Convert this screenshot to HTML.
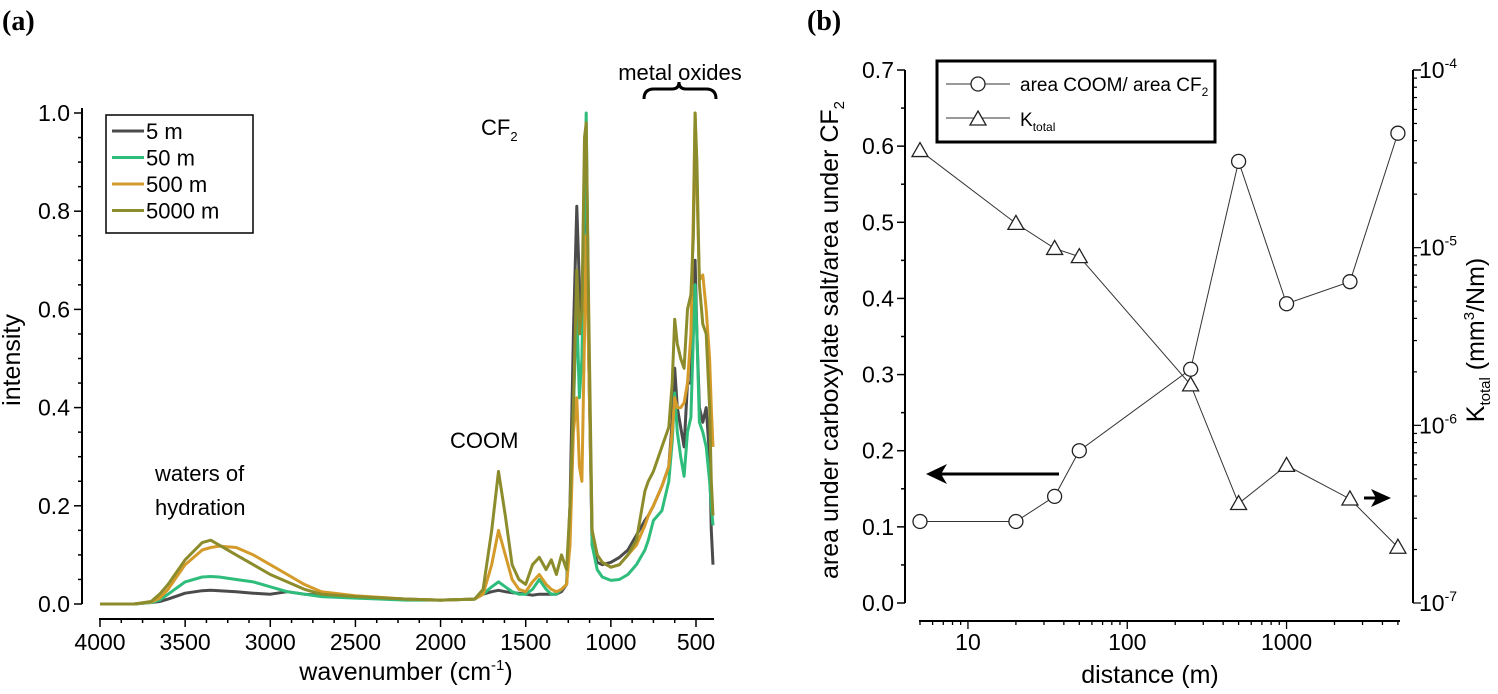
<!DOCTYPE html>
<html><head><meta charset="utf-8">
<style>
html,body{margin:0;padding:0;background:#fff;}
svg{display:block;font-family:"Liberation Sans",sans-serif;}
</style></head>
<body>
<svg id="fig" width="1498" height="694" viewBox="0 0 1498 694">
<text x="2" y="30" font-family="Liberation Serif" font-weight="bold" font-size="28">(a)</text>
<text x="807" y="30" font-family="Liberation Serif" font-weight="bold" font-size="28">(b)</text>
<g id="pa"></g>
<g id="pb"></g>
</svg>
<script>
const NS="http://www.w3.org/2000/svg";
function mk(parent,tag,attrs,text){const e=document.createElementNS(NS,tag);for(const k in attrs)e.setAttribute(k,attrs[k]);if(text!==undefined)e.textContent=text;parent.appendChild(e);return e;}

// ---------- Panel A data ----------
const wavenumbers=[4000,3800,3700,3650,3600,3500,3400,3350,3300,3200,3100,3000,2900,2800,2700,2500,2200,2000,1800,1750,1700,1660,1620,1580,1540,1500,1460,1420,1380,1350,1320,1290,1260,1240,1220,1200,1185,1170,1155,1145,1130,1110,1080,1050,1000,950,900,850,800,780,750,700,660,640,625,610,590,570,550,530,515,505,495,480,460,440,420,410,400];
const series5m=[0,0,0.003,0.005,0.01,0.022,0.027,0.028,0.027,0.025,0.022,0.02,0.025,0.02,0.018,0.015,0.01,0.008,0.01,0.02,0.025,0.028,0.025,0.023,0.022,0.02,0.018,0.02,0.02,0.02,0.02,0.025,0.04,0.2,0.55,0.81,0.65,0.55,0.8,0.92,0.5,0.12,0.085,0.08,0.085,0.095,0.11,0.14,0.17,0.18,0.2,0.24,0.28,0.37,0.48,0.4,0.36,0.32,0.45,0.45,0.6,0.7,0.55,0.4,0.37,0.4,0.3,0.15,0.08];
const series50m=[0,0,0.003,0.008,0.02,0.045,0.055,0.056,0.055,0.05,0.045,0.035,0.025,0.02,0.015,0.012,0.008,0.008,0.01,0.02,0.035,0.045,0.035,0.025,0.02,0.02,0.03,0.05,0.03,0.02,0.02,0.03,0.04,0.15,0.4,0.6,0.42,0.5,0.8,1.0,0.55,0.12,0.07,0.055,0.048,0.05,0.06,0.08,0.11,0.13,0.17,0.19,0.25,0.33,0.43,0.35,0.3,0.26,0.35,0.38,0.55,0.65,0.55,0.37,0.35,0.32,0.25,0.2,0.16];
const series500m=[0,0,0.004,0.012,0.03,0.08,0.11,0.115,0.118,0.115,0.1,0.08,0.06,0.04,0.025,0.017,0.01,0.008,0.01,0.02,0.08,0.15,0.1,0.05,0.03,0.025,0.045,0.06,0.04,0.03,0.025,0.03,0.04,0.12,0.35,0.42,0.28,0.25,0.55,0.75,0.5,0.15,0.1,0.085,0.075,0.08,0.1,0.12,0.16,0.18,0.2,0.24,0.28,0.35,0.42,0.4,0.4,0.41,0.45,0.55,0.8,1.0,0.85,0.66,0.67,0.6,0.5,0.4,0.32];
const series5000m=[0,0,0.005,0.02,0.04,0.09,0.125,0.13,0.12,0.1,0.08,0.06,0.045,0.03,0.02,0.015,0.01,0.008,0.01,0.03,0.15,0.27,0.18,0.08,0.05,0.04,0.08,0.095,0.07,0.09,0.06,0.1,0.07,0.2,0.4,0.68,0.55,0.6,0.95,0.98,0.6,0.15,0.1,0.085,0.075,0.08,0.1,0.13,0.23,0.25,0.27,0.32,0.36,0.45,0.58,0.53,0.5,0.48,0.6,0.63,0.75,1.0,0.9,0.65,0.57,0.55,0.4,0.25,0.18];
const seriesNames=["5 m","50 m","500 m","5000 m"];
const seriesColors=["#4b4b4b","#2fbd7c","#d49b2a","#8c8c2c"];
const xTicksA=[4000,3500,3000,2500,2000,1500,1000,500];
const yTicksA=[0,0.2,0.4,0.6,0.8,1.0];

const pa=document.getElementById('pa');
const xA=w=>100+(4000-w)/3500*596;
const yA=v=>604-v*491;
let ax=mk(pa,'line',{x1:82,y1:108,x2:82,y2:604,stroke:'#000','stroke-width':2});

ax=mk(pa,'line',{x1:99,y1:619,x2:714,y2:619,stroke:'#000','stroke-width':2});

for(let v=0;v<=1.0001;v+=0.05){const maj=Math.abs(v*5-Math.round(v*5))<1e-6;mk(pa,'line',{x1:maj?74:78,y1:yA(v),x2:82,y2:yA(v),stroke:'#000','stroke-width':1.5});}
yTicksA.forEach(v=>{const t=mk(pa,'text',{x:70,y:yA(v)+8,'text-anchor':'end','font-size':23},v.toFixed(1));});
for(let w=4000;w>=400;w-=125){const maj=w%500===0;mk(pa,'line',{x1:xA(w),y1:619,x2:xA(w),y2:maj?627:623,stroke:'#000','stroke-width':1.5});}
xTicksA.forEach(w=>{const t=mk(pa,'text',{x:xA(w),y:650,'text-anchor':'middle','font-size':23},String(w));});
let t=mk(pa,'text',{x:406,y:680,'text-anchor':'middle','font-size':25});
t.innerHTML='wavenumber (cm<tspan font-size="15" dy="-10">-1</tspan><tspan dy="10">)</tspan>';

t=mk(pa,'text',{x:0,y:0,'text-anchor':'middle','font-size':25,transform:'translate(20,360) rotate(-90)'},'intensity');

[series5m,series50m,series500m,series5000m].forEach((s,i)=>{
  const d=s.map((v,j)=>(j?'L':'M')+xA(wavenumbers[j]).toFixed(1)+','+yA(v).toFixed(1)).join('');
  const p=mk(pa,'path',{d:d,fill:'none',stroke:seriesColors[i],'stroke-width':3,'stroke-linejoin':'round'});
  
  
});
const lg=mk(pa,'g',{});

mk(lg,'rect',{x:106,y:115,width:147,height:118,fill:'#fff',stroke:'#000','stroke-width':1.5});
seriesNames.forEach((n,i)=>{const y=131+i*26.5;mk(lg,'line',{x1:112,y1:y,x2:144,y2:y,stroke:seriesColors[i],'stroke-width':3});
  const e=mk(lg,'text',{x:146,y:y+8,'font-size':22},n);});
t=mk(pa,'text',{x:680,y:80,'text-anchor':'middle','font-size':22},'metal oxides');
let b=mk(pa,'path',{d:'M644,99 Q644,89 654,89 L672,89 Q679,89 679,82 Q679,89 686,89 L706,89 Q716,89 716,99',fill:'none',stroke:'#000','stroke-width':3});

t=mk(pa,'text',{x:481,y:135,'font-size':22});t.innerHTML='CF<tspan font-size="13" dy="6">2</tspan>';
t=mk(pa,'text',{x:450,y:448,'font-size':22},'COOM');
t=mk(pa,'text',{x:155,y:481,'font-size':22},'waters of');
t=mk(pa,'text',{x:155,y:515,'font-size':22},'hydration');

// ---------- Panel B data ----------
const distances=[5,20,35,50,250,500,1000,2500,5000];
const areaRatio=[0.107,0.107,0.14,0.2,0.307,0.58,0.393,0.422,0.617];
const kTotal=[3.52e-5,1.37e-5,9.9e-6,8.9e-6,1.69e-6,3.63e-7,5.95e-7,3.85e-7,2.06e-7];
const xTicksB=[10,100,1000];
const yTicksB=[0,0.1,0.2,0.3,0.4,0.5,0.6,0.7];
const yTicksRight=[-7,-6,-5,-4];

const pb=document.getElementById('pb');
const xB=d=>920+(Math.log10(d)-Math.log10(5))*159.3;
const yB=v=>603-v/0.7*533;
const yR=k=>603-(Math.log10(k)+7)/3*533;
ax=mk(pb,'line',{x1:905,y1:70,x2:905,y2:603,stroke:'#000','stroke-width':2});
ax=mk(pb,'line',{x1:1413,y1:70,x2:1413,y2:603,stroke:'#000','stroke-width':2});
ax=mk(pb,'line',{x1:919,y1:621,x2:1400,y2:621,stroke:'#000','stroke-width':2});
for(let i=0;i<=14;i++){const v=i*0.05;mk(pb,'line',{x1:i%2?901:897,y1:yB(v),x2:905,y2:yB(v),stroke:'#000','stroke-width':1.5});}
yTicksB.forEach(v=>{const e=mk(pb,'text',{x:894,y:yB(v)+8,'text-anchor':'end','font-size':23},v.toFixed(1));});
for(let e=-7;e<-4;e++){for(let m=1;m<10;m++){const y=yR(m*Math.pow(10,e));mk(pb,'line',{x1:1413,y1:y,x2:m===1?1421:1417,y2:y,stroke:'#000','stroke-width':1.2});}}
mk(pb,'line',{x1:1413,y1:yR(1e-4),x2:1421,y2:yR(1e-4),stroke:'#000','stroke-width':1.5});
yTicksRight.forEach(e=>{const el=mk(pb,'text',{x:1419,y:yR(Math.pow(10,e))+8,'font-size':23});el.innerHTML='10<tspan font-size="14" dy="-10">'+e+'</tspan>';});
for(let e=0;e<4;e++){for(let m=1;m<10;m++){const d=m*Math.pow(10,e);if(d<5||d>5000)continue;const x=xB(d);mk(pb,'line',{x1:x,y1:621,x2:x,y2:m===1?629:625,stroke:'#000','stroke-width':1.3});}}
xTicksB.forEach(d=>{const e=mk(pb,'text',{x:xB(d),y:650,'text-anchor':'middle','font-size':23},String(d));});
t=mk(pb,'text',{x:1150,y:683,'text-anchor':'middle','font-size':25},'distance (m)');
t=mk(pb,'text',{x:0,y:0,'text-anchor':'middle','font-size':25,transform:'translate(838,340) rotate(-90)'});
t.innerHTML='area under carboxylate salt/area under CF<tspan font-size="15" dy="6">2</tspan>';

t=mk(pb,'text',{x:0,y:0,'text-anchor':'middle','font-size':25,transform:'translate(1484,340) rotate(-90)'});
t.innerHTML='K<tspan font-size="15" dy="6">total</tspan><tspan dy="-6"> (mm</tspan><tspan font-size="15" dy="-10">3</tspan><tspan dy="10">/Nm)</tspan>';

let p=mk(pb,'path',{d:distances.map((d,i)=>(i?'L':'M')+xB(d)+','+yB(areaRatio[i])).join(''),fill:'none',stroke:'#333','stroke-width':1});

p=mk(pb,'path',{d:distances.map((d,i)=>(i?'L':'M')+xB(d)+','+yR(kTotal[i])).join(''),fill:'none',stroke:'#333','stroke-width':1});

distances.forEach((d,i)=>{const c=mk(pb,'circle',{cx:xB(d),cy:yB(areaRatio[i]),r:7,fill:'#fff',stroke:'#222','stroke-width':1.3});
  });
const tri=(x,y)=>`M${x},${y-8} L${x+8},${y+6} L${x-8},${y+6}Z`;
distances.forEach((d,i)=>{const tr=mk(pb,'path',{d:tri(xB(d),yR(kTotal[i])),fill:'#fff',stroke:'#222','stroke-width':1.3});
  });
const lb=mk(pb,'g',{});
mk(lb,'rect',{x:937,y:61,width:278,height:81,fill:'#fff',stroke:'#000','stroke-width':3});
mk(lb,'line',{x1:946,y1:84,x2:1010,y2:84,stroke:'#333','stroke-width':1});
mk(lb,'circle',{cx:978,cy:84,r:7,fill:'#fff',stroke:'#222','stroke-width':1.3});
t=mk(lb,'text',{x:1020,y:91,'font-size':19});t.innerHTML='area COOM/ area CF<tspan font-size="12" dy="5">2</tspan>';
mk(lb,'line',{x1:946,y1:118,x2:1010,y2:118,stroke:'#333','stroke-width':1});
mk(lb,'path',{d:tri(978,119),fill:'#fff',stroke:'#222','stroke-width':1.3});
t=mk(lb,'text',{x:1020,y:126,'font-size':19});t.innerHTML='K<tspan font-size="12" dy="5">total</tspan>';
let ar=mk(pb,'g',{});
mk(ar,'line',{x1:1059,y1:474,x2:935,y2:474,stroke:'#000','stroke-width':3});
mk(ar,'path',{d:'M926,474 L947,464 L941,474 L947,484Z',fill:'#000'});
ar=mk(pb,'g',{});
mk(ar,'line',{x1:1364,y1:498,x2:1382,y2:498,stroke:'#000','stroke-width':3});
mk(ar,'path',{d:'M1391,498 L1371,489 L1376,498 L1371,507Z',fill:'#000'});
</script>
</body></html>
